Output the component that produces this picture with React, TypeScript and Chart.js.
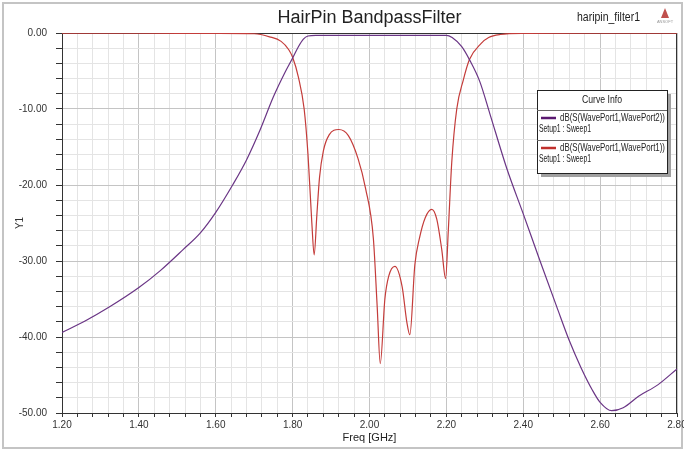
import React, { useEffect, useRef } from 'react';
import { Chart, registerables } from 'chart.js';

Chart.register(...registerables);

// ---- data ----
const s21Freq = [1.2, 1.26, 1.325, 1.4, 1.455, 1.515, 1.56, 1.6, 1.645, 1.68, 1.715, 1.75, 1.78, 1.8, 1.815, 1.828, 1.84, 1.86, 2.0, 2.2, 2.215, 2.24, 2.261, 2.287, 2.313, 2.357, 2.4, 2.443, 2.487, 2.52, 2.55, 2.58, 2.6, 2.63, 2.66, 2.7, 2.75, 2.8];
const s21dB = [-39.4, -37.9, -36.0, -33.5, -31.3, -28.5, -26.3, -23.6, -19.9, -16.7, -12.8, -8.4, -5.2, -3.3, -1.8, -0.8, -0.4, -0.3, -0.3, -0.3, -0.6, -1.8, -3.6, -6.4, -10.6, -17.8, -23.8, -29.9, -36.0, -40.5, -44.0, -47.0, -48.6, -49.7, -49.3, -47.8, -46.3, -44.2];

const s11Freq = [1.2, 1.4, 1.6, 1.7, 1.74, 1.77, 1.79, 1.8, 1.815, 1.83, 1.84, 1.85, 1.856, 1.863, 1.87, 1.88, 1.895, 1.92, 1.945, 1.97, 1.99, 2.01, 2.02, 2.028, 2.04, 2.05, 2.066, 2.085, 2.097, 2.105, 2.118, 2.13, 2.145, 2.162, 2.175, 2.188, 2.198, 2.205, 2.214, 2.227, 2.244, 2.26, 2.29, 2.31, 2.34, 2.4, 2.6, 2.8];
const s11dB = [-0.02, -0.03, -0.05, -0.1, -0.5, -1.1, -2.2, -3.2, -5.8, -10, -16, -25, -29.2, -24, -19, -15.5, -13.4, -12.7, -13.5, -16.5, -20.5, -27, -36, -43.5, -35, -32, -30.7, -33.4, -38, -39.7, -30.5, -27, -24.3, -23.2, -24.5, -28.5, -32.3, -26, -17, -10, -6.2, -3.5, -1.4, -0.6, -0.2, -0.05, -0.03, -0.02];

const seriesLabels = ['dB(S(WavePort1,WavePort2))', 'dB(S(WavePort1,WavePort1))'];
const seriesColors = ['#6a3585', '#c43c3a'];
const legendColors = ['#5a1870', '#c0302c'];
const sweepLabel = 'Setup1 : Sweep1';
const chartTitle = 'HairPin BandpassFilter';
const designName = 'haripin_filter1';
const legendTitle = 'Curve Info';
const xTitle = 'Freq [GHz]';
const yTitle = 'Y1';

const FONT = "'Liberation Sans', Arial, sans-serif";

const isMult = (v: number, m: number) => Math.abs(Math.round(v / m) * m - v) < 1e-6;

// draws text squeezed horizontally to a target width (narrow-font look)
function fitText(ctx: CanvasRenderingContext2D, text: string, x: number, y: number, width: number, align: 'left' | 'center' | 'right') {
  const m = ctx.measureText(text).width;
  const sx = Math.min(1, width / m);
  ctx.save();
  ctx.textAlign = 'left';
  const w = m * sx;
  const left = align === 'left' ? x : align === 'center' ? x - w / 2 : x - w;
  ctx.translate(left, y);
  ctx.scale(sx, 1);
  ctx.fillText(text, 0, 0);
  ctx.restore();
}

const decorPlugin = {
  id: 'decor',
  beforeDraw(chart: any) {
    const { ctx, width, height } = chart;
    ctx.save();
    ctx.fillStyle = '#ffffff';
    ctx.fillRect(0, 0, width, height);
    ctx.strokeStyle = '#c4c4c4';
    ctx.lineWidth = 2;
    ctx.strokeRect(3, 3, width - 5, height - 5);
    ctx.restore();
  },
  beforeDatasetsDraw(chart: any) {
    const { ctx, chartArea } = chart;
    ctx.save();
    ctx.strokeStyle = '#333';
    ctx.lineWidth = 1;
    ctx.strokeRect(chartArea.left + 0.5, chartArea.top + 0.5, chartArea.right - chartArea.left - 1, chartArea.bottom - chartArea.top);
    ctx.restore();
  },
  afterDraw(chart: any) {
    const { ctx, chartArea } = chart;
    ctx.save();
    ctx.textBaseline = 'middle';
    // Title
    ctx.fillStyle = '#222';
    ctx.font = `18px ${FONT}`;
    fitText(ctx, chartTitle, (chartArea.left + chartArea.right) / 2, 18, 185, 'center');
    // design name
    ctx.font = `12px ${FONT}`;
    fitText(ctx, designName, chartArea.right - 37, 18, 63, 'right');
    // logo
    const lx = chartArea.right - 12;
    ctx.fillStyle = '#c0504d';
    ctx.beginPath();
    ctx.moveTo(lx, 8);
    ctx.lineTo(lx - 4, 18);
    ctx.lineTo(lx + 4, 18);
    ctx.closePath();
    ctx.fill();
    ctx.fillStyle = '#999';
    ctx.font = `4px ${FONT}`;
    ctx.textAlign = 'center';
    ctx.fillText('ANSOFT', lx, 22);

    // legend box
    const w = 130, h = 83;
    const x0 = chartArea.right - 140;
    const y0 = chartArea.top + 57;
    ctx.fillStyle = '#a0a0a0';
    ctx.fillRect(x0 + 4, y0 + 4, w, h);
    ctx.fillStyle = '#ffffff';
    ctx.fillRect(x0, y0, w, h);
    ctx.strokeStyle = '#222';
    ctx.lineWidth = 1;
    ctx.strokeRect(x0 + 0.5, y0 + 0.5, w, h);
    ctx.fillStyle = '#222';
    ctx.font = `11px ${FONT}`;
    fitText(ctx, legendTitle, x0 + w / 2, y0 + 10, 40, 'center');
    ctx.strokeStyle = '#666';
    [20, 50].forEach((s) => {
      ctx.beginPath();
      ctx.moveTo(x0, y0 + s + 0.5);
      ctx.lineTo(x0 + w, y0 + s + 0.5);
      ctx.stroke();
    });
    chart.data.datasets.forEach((ds: any, i: number) => {
      const yy = y0 + 28 + i * 30;
      ctx.strokeStyle = legendColors[i];
      ctx.lineWidth = 2.5;
      ctx.beginPath();
      ctx.moveTo(x0 + 4, yy);
      ctx.lineTo(x0 + 19, yy);
      ctx.stroke();
      ctx.fillStyle = '#222';
      ctx.font = `11px ${FONT}`;
      fitText(ctx, ds.label, x0 + 23, yy, 105, 'left');
      fitText(ctx, sweepLabel, x0 + 2, yy + 11, 52, 'left');
    });
    ctx.restore();
  },
};

export default function App() {
  const ref = useRef<HTMLCanvasElement>(null);
  useEffect(() => {
    if (!ref.current) return;
    const chart = new Chart(ref.current, {
      type: 'line',
      data: {
        datasets: [
          {
            label: seriesLabels[0],
            data: s21Freq.map((f, i) => ({ x: f, y: s21dB[i] })),
            borderColor: seriesColors[0],
            borderWidth: 1.2,
            pointRadius: 0,
            cubicInterpolationMode: 'monotone',
          },
          {
            label: seriesLabels[1],
            data: s11Freq.map((f, i) => ({ x: f, y: s11dB[i] })),
            borderColor: seriesColors[1],
            borderWidth: 1.2,
            pointRadius: 0,
            cubicInterpolationMode: 'monotone',
          },
        ],
      },
      options: {
        responsive: false,
        animation: false,
        layout: { padding: { top: 33, right: 7, left: 0, bottom: 0 } },
        plugins: { legend: { display: false }, tooltip: { enabled: false }, title: { display: false } },
        scales: {
          x: {
            type: 'linear',
            min: 1.2,
            max: 2.8,
            afterFit: (s: any) => {
              s.height = 37;
              s.paddingLeft = 0;
              s.paddingRight = 0;
            },
            ticks: {
              stepSize: 0.04,
              autoSkip: false,
              maxRotation: 0,
              padding: 2,
              color: '#333',
              font: { family: FONT, size: 10 },
              callback: (v: any) => (isMult(Number(v), 0.2) ? Number(v).toFixed(2) : ''),
            },
            grid: {
              color: (c: any) => (c.tick && isMult(c.tick.value, 0.2) ? '#c4c4c4' : '#e4e4e4'),
              tickColor: '#333',
              tickLength: 4,
            },
            border: { display: true, color: '#333' },
            title: { display: true, text: xTitle, color: '#222', font: { family: FONT, size: 11 }, padding: { top: 0, bottom: 5 } },
          },
          y: {
            type: 'linear',
            min: -50,
            max: 0,
            afterFit: (s: any) => {
              s.width = 62;
              s.paddingTop = 0;
              s.paddingBottom = 0;
            },
            ticks: {
              stepSize: 2,
              autoSkip: false,
              padding: 9,
              color: '#333',
              font: { family: FONT, size: 10 },
              callback: (v: any) => (isMult(Number(v), 10) ? Number(v).toFixed(2) : ''),
            },
            grid: {
              color: (c: any) => (c.tick && isMult(c.tick.value, 10) ? '#c4c4c4' : '#e4e4e4'),
              tickColor: '#333',
              tickLength: 6,
            },
            border: { display: true, color: '#333' },
            title: { display: true, text: yTitle, color: '#333', font: { family: FONT, size: 10 }, padding: { top: 14, bottom: 0 } },
          },
        },
      },
      plugins: [decorPlugin],
    } as any);
    return () => chart.destroy();
  }, []);
  return (
    <div style={{ position: 'fixed', left: 0, top: 0, width: 684, height: 450, background: '#fff' }}>
      <canvas ref={ref} width={684} height={450} style={{ display: 'block', width: 684, height: 450 }} />
    </div>
  );
}
